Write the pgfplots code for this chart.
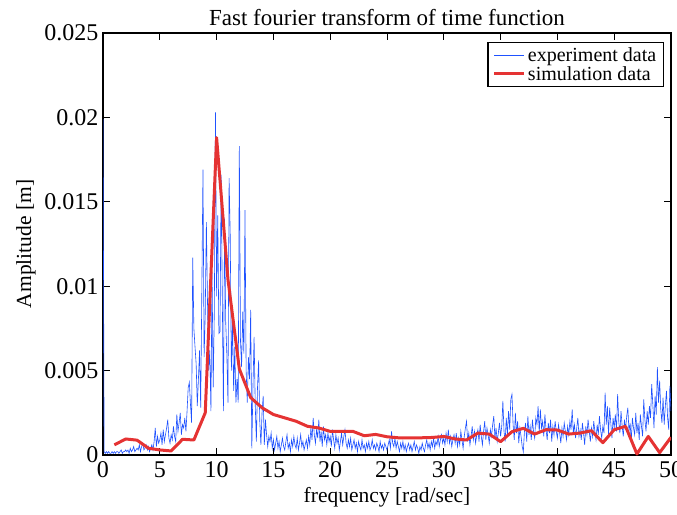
\documentclass[border=0pt]{standalone}
\usepackage{fontspec}
\setmainfont{Liberation Serif}
\usepackage{pgfplots}
\pgfplotsset{compat=1.18}
\definecolor{expblue}{rgb}{0.12,0.32,1}
\definecolor{simred}{rgb}{0.9,0.2,0.2}
\begin{document}
\begin{tikzpicture}
\begin{axis}[name=ax, scale only axis, width=568pt, height=422pt,
 xmin=0, xmax=50, ymin=0, ymax=0.025,
 xtick={0,5,10,15,20,25,30,35,40,45,50},
 xticklabels={0,5,10,15,20,25,30,35,40,45,50},
 ytick={0,0.005,0.01,0.015,0.02,0.025},
 yticklabels={0,0.005,0.01,0.015,0.02,0.025},
 /pgf/number format/assume math mode=true,
 scaled y ticks=false,
 tick align=inside, major tick length=7pt,
 tick style={black, line width=1pt},
 axis line style={line width=1.2pt},
 ticklabel style={font=\fontsize{24}{26}\selectfont},
 xticklabel style={yshift=-3pt},
 yticklabel style={xshift=-1pt},
 xlabel={frequency [rad/sec]}, ylabel={Amplitude [m]},
 label style={font=\fontsize{21.5}{24}\selectfont},
 xlabel style={yshift=-3pt},
 ylabel style={yshift=2pt},
 title={Fast fourier transform of time function},
 title style={font=\fontsize{23}{25}\selectfont, yshift=-2pt},
 legend image code/.code={\draw[#1] (0pt,0pt) -- (30pt,0pt);},
 legend cell align=left,
 legend style={at={(1,1)}, anchor=north east, xshift=-7pt, yshift=-9pt,
   draw=black, line width=1.5pt, font=\fontsize{20}{21}\selectfont,
   inner xsep=5pt, inner ysep=3pt, row sep=-1pt},
]
\addplot[expblue, line width=0.6pt] coordinates {
(0,.0199)(0.1,.0002)(0.2,.0001)(0.3,.0002)(0.4,.0001)(0.5,.0002)(0.6,.0001)(0.7,.0001)(0.8,.0002)(0.9,.0001)
(1,.0002)(1.1,.0001)(1.2,.0002)(1.3,.0002)(1.4,.0001)(1.5,.0002)(1.6,.0003)(1.7,.0001)(1.8,.0002)(1.9,.0002)
(2,.0003)(2.1,.0002)(2.2,.0003)(2.3,.0001)(2.4,.0004)(2.5,.0002)(2.6,.0003)(2.7,.0005)(2.8,.0002)(2.9,.0003)
(3,.0004)(3.1,.0003)(3.2,.0006)(3.3,.0002)(3.4,.0005)(3.5,.0007)(3.6,.0003)(3.7,.0004)(3.8,.0006)(3.9,.0003)
(4,.0005)(4.1,.0002)(4.2,.0004)(4.3,.0006)(4.4,.0003)(4.5,.0008)(4.6,.0016)(4.7,.0005)(4.8,.0011)(4.9,.0007)
(5,.0009)(5.1,.0013)(5.2,.0006)(5.3,.0015)(5.4,.0008)(5.5,.0012)(5.6,.0016)(5.7,.0021)(5.8,.0010)(5.9,.0007)
(6,.0012)(6.1,.0009)(6.2,.0017)(6.3,.0011)(6.4,.0008)(6.5,.0024)(6.6,.0014)(6.7,.0019)(6.8,.0025)(6.9,.0012)
(7,.0018)(7.1,.0016)(7.2,.0022)(7.3,.0014)(7.4,.0026)(7.5,.0040)(7.6,.0043)(7.7,.0030)(7.8,.0019)(7.9,.0117)
(8,.0075)(8.1,.0064)(8.2,.0054)(8.3,.0029)(8.4,.0045)(8.5,.0062)(8.6,.0028)(8.7,.0098)(8.8,.0169)(8.9,.0058)
(9,.0084)(9.1,.0138)(9.2,.0090)(9.3,.0050)(9.4,.0062)(9.5,.0026)(9.6,.0108)(9.7,.0040)(9.8,.0085)(9.9,.0203)
(10,.0094)(10.1,.0142)(10.2,.0072)(10.3,.0073)(10.4,.0166)(10.5,.0095)(10.6,.0026)(10.7,.0140)(10.8,.0079)(10.9,.0060)
(11,.0031)(11.1,.0164)(11.2,.0130)(11.3,.0050)(11.4,.0079)(11.5,.0038)(11.6,.0064)(11.7,.0031)(11.8,.0045)(11.9,.0031)
(12,.0183)(12.1,.0068)(12.2,.0052)(12.3,.0085)(12.4,.0060)(12.5,.0145)(12.6,.0050)(12.7,.0031)(12.8,.0058)(12.9,.0045)
(13,.0086)(13.1,.0004)(13.2,.0040)(13.3,.0070)(13.4,.0030)(13.5,.0008)(13.6,.0040)(13.7,.0056)(13.8,.0020)(13.9,.0006)
(14,.0025)(14.1,.0035)(14.2,.0006)(14.3,.0021)(14.4,.0012)(14.5,.0005)(14.6,.0011)(14.7,.0008)(14.8,.0013)(14.9,.0004)
(15,.0009)(15.1,.0003)(15.2,.0007)(15.3,.0011)(15.4,.0004)(15.5,.0008)(15.6,.0002)(15.7,.0006)(15.8,.0010)(15.9,.0005)
(16,.0003)(16.1,.0008)(16.2,.0012)(16.3,.0004)(16.4,.0007)(16.5,.0002)(16.6,.0009)(16.7,.0005)(16.8,.0011)(16.9,.0006)
(17,.0004)(17.1,.0010)(17.2,.0003)(17.3,.0007)(17.4,.0012)(17.5,.0005)(17.6,.0008)(17.7,.0003)(17.8,.0006)(17.9,.0009)
(18,.0004)(18.1,.0011)(18.2,.0006)(18.3,.0016)(18.4,.0009)(18.5,.0022)(18.6,.0012)(18.7,.0007)(18.8,.0015)(18.9,.0010)
(19,.0021)(19.1,.0008)(19.2,.0014)(19.3,.0005)(19.4,.0017)(19.5,.0009)(19.6,.0012)(19.7,.0006)(19.8,.0013)(19.9,.0008)
(20,.0011)(20.1,.0005)(20.2,.0015)(20.3,.0009)(20.4,.0004)(20.5,.0012)(20.6,.0007)(20.7,.0010)(20.8,.0003)(20.9,.0008)
(21,.0013)(21.1,.0006)(21.2,.0011)(21.3,.0015)(21.4,.0007)(21.5,.0004)(21.6,.0009)(21.7,.0005)(21.8,.0010)(21.9,.0003)
(22,.0006)(22.1,.0009)(22.2,.0004)(22.3,.0007)(22.4,.0002)(22.5,.0008)(22.6,.0005)(22.7,.0003)(22.8,.0009)(22.9,.0004)
(23,.0006)(23.1,.0002)(23.2,.0007)(23.3,.0004)(23.4,.0008)(23.5,.0003)(23.6,.0005)(23.7,.0009)(23.8,.0004)(23.9,.0006)
(24,.0003)(24.1,.0007)(24.2,.0005)(24.3,.0002)(24.4,.0008)(24.5,.0004)(24.6,.0006)(24.7,.0003)(24.8,.0007)(24.9,.0005)
(25,.0003)(25.1,.0006)(25.2,.0009)(25.3,.0004)(25.4,.0014)(25.5,.0007)(25.6,.0005)(25.7,.0010)(25.8,.0004)(25.9,.0008)
(26,.0005)(26.1,.0002)(26.2,.0007)(26.3,.0004)(26.4,.0008)(26.5,.0003)(26.6,.0006)(26.7,.0002)(26.8,.0005)(26.9,.0007)
(27,.0003)(27.1,.0006)(27.2,.0002)(27.3,.0005)(27.4,.0008)(27.5,.0003)(27.6,.0006)(27.7,.0004)(27.8,.0001)(27.9,.0005)
(28,.0003)(28.1,.0007)(28.2,.0004)(28.3,.0002)(28.4,.0006)(28.5,.0009)(28.6,.0004)(28.7,.0007)(28.8,.0003)(28.9,.0008)
(29,.0005)(29.1,.0010)(29.2,.0004)(29.3,.0008)(29.4,.0006)(29.5,.0011)(29.6,.0005)(29.7,.0009)(29.8,.0012)(29.9,.0007)
(30,.0010)(30.1,.0006)(30.2,.0013)(30.3,.0008)(30.4,.0015)(30.5,.0007)(30.6,.0011)(30.7,.0005)(30.8,.0009)(30.9,.0012)
(31,.0007)(31.1,.0013)(31.2,.0005)(31.3,.0010)(31.4,.0006)(31.5,.0014)(31.6,.0009)(31.7,.0004)(31.8,.0011)(31.9,.0016)
(32,.0020)(32.1,.0008)(32.2,.0013)(32.3,.0006)(32.4,.0011)(32.5,.0017)(32.6,.0009)(32.7,.0014)(32.8,.0007)(32.9,.0012)
(33,.0015)(33.1,.0008)(33.2,.0018)(33.3,.0011)(33.4,.0006)(33.5,.0014)(33.6,.0020)(33.7,.0009)(33.8,.0016)(33.9,.0012)
(34,.0007)(34.1,.0015)(34.2,.0011)(34.3,.0018)(34.4,.0023)(34.5,.0010)(34.6,.0016)(34.7,.0008)(34.8,.0013)(34.9,.0019)
(35,.0011)(35.1,.0017)(35.2,.0032)(35.3,.0014)(35.4,.0008)(35.5,.0022)(35.6,.0012)(35.7,.0026)(35.8,.0015)(35.9,.0033)
(36,.0036)(36.1,.0018)(36.2,.0009)(36.3,.0025)(36.4,.0013)(36.5,.0020)(36.6,.0007)(36.7,.0016)(36.8,.0011)(36.9,.0005)
(37,.0002)(37.1,.0014)(37.2,.0019)(37.3,.0008)(37.4,.0023)(37.5,.0012)(37.6,.0017)(37.7,.0009)(37.8,.0021)(37.9,.0014)
(38,.0010)(38.1,.0022)(38.2,.0018)(38.3,.0029)(38.4,.0013)(38.5,.0027)(38.6,.0016)(38.7,.0020)(38.8,.0011)(38.9,.0024)
(39,.0015)(39.1,.0009)(39.2,.0019)(39.3,.0013)(39.4,.0021)(39.5,.0008)(39.6,.0017)(39.7,.0012)(39.8,.0020)(39.9,.0014)
(40,.0010)(40.1,.0018)(40.2,.0013)(40.3,.0007)(40.4,.0016)(40.5,.0011)(40.6,.0019)(40.7,.0014)(40.8,.0009)(40.9,.0017)
(41,.0012)(41.1,.0020)(41.2,.0015)(41.3,.0027)(41.4,.0013)(41.5,.0018)(41.6,.0010)(41.7,.0016)(41.8,.0022)(41.9,.0011)
(42,.0015)(42.1,.0009)(42.2,.0019)(42.3,.0013)(42.4,.0006)(42.5,.0017)(42.6,.0012)(42.7,.0021)(42.8,.0014)(42.9,.0008)
(43,.0016)(43.1,.0011)(43.2,.0020)(43.3,.0014)(43.4,.0009)(43.5,.0018)(43.6,.0012)(43.7,.0023)(43.8,.0015)(43.9,.0010)
(44,.0017)(44.1,.0013)(44.2,.0037)(44.3,.0018)(44.4,.0029)(44.5,.0012)(44.6,.0028)(44.7,.0019)(44.8,.0010)(44.9,.0022)
(45,.0016)(45.1,.0024)(45.2,.0014)(45.3,.0036)(45.4,.0020)(45.5,.0013)(45.6,.0026)(45.7,.0017)(45.8,.0011)(45.9,.0021)
(46,.0015)(46.1,.0023)(46.2,.0028)(46.3,.0014)(46.4,.0019)(46.5,.0008)(46.6,.0022)(46.7,.0016)(46.8,.0012)(46.9,.0025)
(47,.0013)(47.1,.0019)(47.2,.0009)(47.3,.0024)(47.4,.0017)(47.5,.0011)(47.6,.0033)(47.7,.0021)(47.8,.0014)(47.9,.0026)
(48,.0018)(48.1,.0029)(48.2,.0022)(48.3,.0042)(48.4,.0030)(48.5,.0016)(48.6,.0035)(48.7,.0024)(48.8,.0052)(48.9,.0031)
(49,.0044)(49.1,.0027)(49.2,.0019)(49.3,.0034)(49.4,.0018)(49.5,.0029)(49.6,.0038)(49.7,.0022)(49.8,.0015)(49.9,.0041)
(50,.0026)
};
\addlegendentry{experiment data}
\addplot[simred, line width=3pt, line join=round] coordinates {
(1,.0006)(2,.00095)(3,.00088)(4,.0004)(5,.0003)(6,.00024)(7,.00093)(8,.00089)(9,.0025)(10,.0188)
(11,.0104)(12,.0051)(13,.0034)(14,.0028)(15,.0024)(16,.0022)(17,.0020)(18,.0017)(19,.0016)(20,.0014)
(21,.0014)(22,.0014)(23,.00114)(24,.00122)(25,.00108)(26,.00102)(27,.00102)(28,.00102)(29,.00104)(30,.0011)
(31,.00095)(32,.00089)(33,.0013)(34,.00124)(35,.00079)(36,.00138)(37,.00158)(38,.00124)(39,.0015)(40,.00148)
(41,.00124)(42,.0013)(43,.00144)(44,.00073)(45,.0015)(46,.0017)(47,.00006)(48,.0011)(49,.00014)(50,.00105)
};
\addlegendentry{simulation data}
\end{axis}
\pgfresetboundingbox
\path ([xshift=-103pt,yshift=-59pt]ax.south west) rectangle ([xshift=6pt,yshift=33pt]ax.north east);
\end{tikzpicture}
\end{document}
